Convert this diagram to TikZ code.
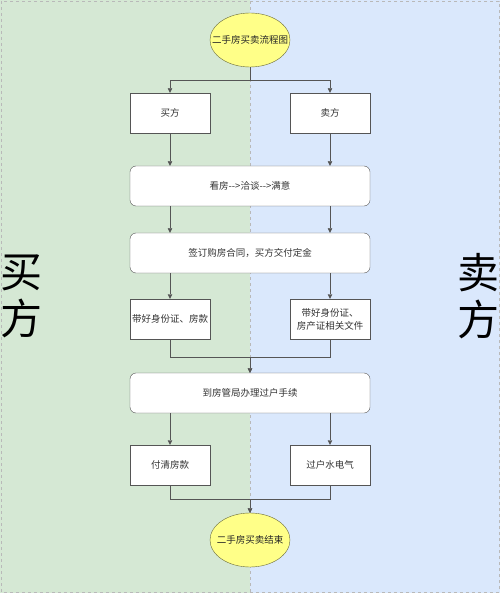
\documentclass[tikz,border=0pt]{standalone}
\usepackage{fontspec}
\setmainfont{Noto Sans CJK SC}
\usetikzlibrary{arrows.meta,shapes.geometric}

\definecolor{lanegreen}{HTML}{D5E8D4}
\definecolor{laneblue}{HTML}{DAE8FC}
\definecolor{ovalfill}{HTML}{FFFF88}
\definecolor{ovalline}{HTML}{6B6B3A}
\definecolor{boxline}{HTML}{555555}
\definecolor{textgrey}{HTML}{333333}

\begin{document}
\begin{tikzpicture}[x=1pt, y=-1pt,
    box/.style={draw=boxline, fill=white, minimum width=80pt, minimum height=40pt,
      inner sep=1pt, align=center, text=textgrey, font=\fontsize{9.5}{13}\selectfont},
    wide/.style={box, rounded corners=6pt, minimum width=240pt},
    oval/.style={ellipse, draw=ovalline, fill=ovalfill, minimum width=80pt,
      minimum height=54pt, inner sep=0pt, text=black!85, font=\fontsize{9.5}{12}\selectfont},
    arr/.style={draw=boxline, -{Triangle[length=4.5pt, width=4.5pt]}},
    side/.style={align=center, font=\fontsize{42}{47}\selectfont}]
    \useasboundingbox (0,0) rectangle (500,593);

    \fill[lanegreen] (0,0) rectangle (250,593);
    \fill[laneblue] (250,0) rectangle (500,593);
    \draw[gray!55, dashed] (1,1) rectangle (499,592);
    \draw[gray!55, dashed] (250,1) -- (250,592);

    \node[side] (p) at (21,296) {买\\方};
    \node[side] (q) at (478,296) {卖\\方};

    \node[oval] (a) at (250,40) {\makebox[0pt]{二手房买卖流程图}};
    \node[box] (b) at (170,113) {买方};
    \node[box] (c) at (330,113) {卖方};
    \node[wide] (d) at (250,186) {看房-{}->洽谈-{}->满意};
    \node[wide] (e) at (250,253) {签订购房合同，买方交付定金};
    \node[box] (f) at (170,319) {带好身份证、房款};
    \node[box] (g) at (330,319) {带好身份证、\\房产证相关文件};
    \node[wide] (h) at (250,393) {到房管局办理过户手续};
    \node[box] (i) at (170,465) {付清房款};
    \node[box] (j) at (330,465) {过户水电气};
    \node[oval] (k) at (250,540) {\makebox[0pt]{二手房买卖结束}};

    \draw[arr] (a.south) -- ++(0,13) -| (b.north);
    \draw[arr] (a.south) -- ++(0,13) -| (c.north);
    \draw[arr] (b) -- (b |- d.north);
    \draw[arr] (c) -- (c |- d.north);
    \draw[arr] (b |- d.south) -- (b |- e.north);
    \draw[arr] (c |- d.south) -- (c |- e.north);
    \draw[arr] (f |- e.south) -- (f.north);
    \draw[arr] (g |- e.south) -- (g.north);
    \draw[arr] (f.south) -- ++(0,18) -| (h.north);
    \draw[arr] (g.south) -- ++(0,18) -| (h.north);
    \draw[arr] (i |- h.south) -- (i.north);
    \draw[arr] (j |- h.south) -- (j.north);
    \draw[arr] (i.south) -- ++(0,14) -| (k.north);
    \draw[arr] (j.south) -- ++(0,14) -| (k.north);
  \end{tikzpicture}
\end{document}
